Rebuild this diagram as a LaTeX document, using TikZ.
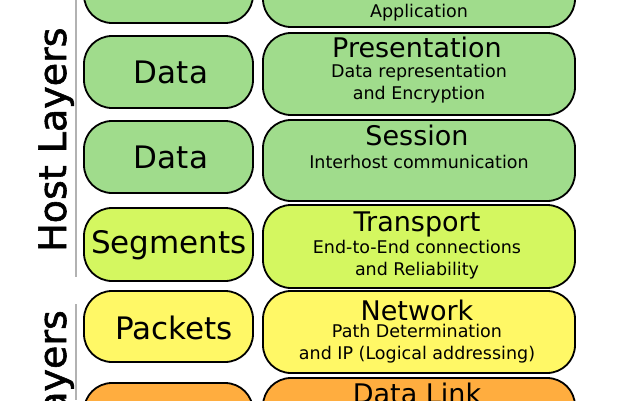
\documentclass[tikz,border=0pt]{standalone}
\usepackage{fontspec}
\setmainfont{DejaVu Sans}
\definecolor{cgreen}{HTML}{A0DC8C}
\definecolor{ctrans}{HTML}{D4F760}
\definecolor{cnet}{HTML}{FFF866}
\definecolor{clink}{HTML}{FFAD3F}
\tikzset{
 box/.style={draw=black,line width=1.8pt,rounded corners=28pt,inner sep=0pt,align=center},
 lefttext/.style={font=\fontsize{31}{33}\selectfont},
 ttl/.style={font=\fontsize{27}{27}\selectfont},
 sub/.style={font=\fontsize{17.5}{22}\selectfont,align=center},
 side/.style={font=\fontsize{38}{38}\selectfont,rotate=90,inner sep=0pt},
}
\begin{document}
\begin{tikzpicture}[x=1pt,y=-1pt]
\useasboundingbox (0,0) rectangle (640,400);
\fill[white] (0,0) rectangle (640,400);
% left boxes
\draw[box,fill=cgreen] (84,-50) rectangle (253,23);
\draw[box,fill=cgreen] (84,36) rectangle (253,108);
\draw[box,fill=cgreen] (84,121) rectangle (253,193);
\draw[box,fill=ctrans] (84,208) rectangle (253,281);
\draw[box,fill=cnet] (84,291) rectangle (253,362);
\draw[box,fill=clink] (84,383) rectangle (253,460);
\node[lefttext] (ld1) at (171,72) {Data};
\node[lefttext] (ld2) at (171,157) {Data};
\node[lefttext] (lseg) at (169,245) {Segments};
\node[lefttext] (lpk) at (174,328) {Packets};
% right boxes
\draw[box,fill=cgreen] (263,-60) rectangle (575,27);
\draw[box,fill=cgreen] (263,33) rectangle (575,115);
\draw[box,fill=cgreen] (263,120) rectangle (575,201);
\draw[box,fill=ctrans] (263,205) rectangle (575,288);
\draw[box,fill=cnet] (263,291) rectangle (575,373);
\draw[box,fill=clink] (263,378) rectangle (575,460);
\node[sub] (sapp) at (419,13) {Application};
\node[ttl] (tpre) at (417,47) {Presentation};
\node[sub] (spre) at (419,84) {Data representation\\and Encryption};
\node[ttl] (tses) at (417,135) {Session};
\node[sub] (sses) at (419,162) {Interhost communication};
\node[ttl] (ttra) at (417,224) {Transport};
\node[sub] (stra) at (417,260) {End-to-End connections\\and Reliability};
\node[ttl] (tnet) at (417,310) {Network};
\node[sub] (snet) at (417,344) {Path Determination\\and IP (Logical addressing)};
\node[ttl] (tlink) at (417,393) {Data Link};
% side labels
\draw[gray!60,line width=2.5pt] (76,0) -- (76,277);
\draw[gray!60,line width=2.5pt] (76,304) -- (76,400);
\node[side,anchor=base west] (host) at (66,252) {\addfontfeature{FakeBold=1.5}Host Layers};
\node[side,anchor=base east] (media) at (66,310) {\addfontfeature{FakeBold=1.5}Media Layers};
\end{tikzpicture}
\end{document}
